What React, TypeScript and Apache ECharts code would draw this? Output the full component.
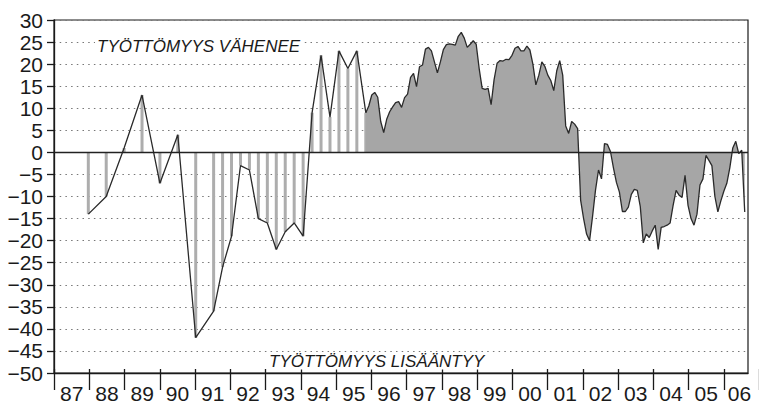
import React, { useEffect, useRef } from 'react';
import * as echarts from 'echarts';

const yearLabels = ['87', '88', '89', '90', '91', '92', '93', '94', '95', '96', '97', '98', '99', '00', '01', '02', '03', '04', '05', '06'];

// Early, sparse observations (semi-annual, then quarterly) drawn as hatched bars
const sparseMonths = [
  '1987-12', '1988-06', '1988-12', '1989-06', '1989-12', '1990-06', '1990-12', '1991-06',
  '1991-09', '1991-12', '1992-03', '1992-06', '1992-09', '1992-12', '1993-03', '1993-06',
  '1993-09', '1993-12', '1994-03', '1994-06', '1994-09', '1994-12', '1995-03', '1995-06', '1995-09',
];
const sparseValues = [
  -14, -10, 1, 13, -7, 4, -42, -36,
  -26, -19, -3, -4, -15, -16, -22, -18,
  -16, -19, 9, 22, 8, 23, 19, 23, 9,
];

// Monthly observations from Oct 1995 on, drawn as a filled area
const monthlyStart = '1995-10';
const monthlyValues = [
  10.5, 13, 13.6,
  12.5, 7, 4.5, 7.5, 9.2, 10.3, 11.3, 11.5, 10.2, 12.4, 13.2, 17,
  17.9, 14.9, 19.4, 19.8, 23.4, 23.8, 23, 20.5, 18, 20.5, 23.3, 24.4,
  24.6, 24.5, 24.3, 26.3, 27.2, 25.9, 23.8, 24.5, 25.3, 24.5, 19, 14.5,
  14.3, 14.5, 10.8, 16.5, 20.2, 20.8, 20.7, 21.1, 21, 22, 23.6, 24,
  23, 23, 24.1, 23.2, 20, 15.3, 17.5, 20.5, 19.5, 17.5, 16.3, 14,
  18.5, 20.8, 17.5, 6, 4.3, 7, 6.4, 5.4, -10.8, -15, -18.5, -20,
  -14.5, -8.5, -4, -6, 2, 1.8, 0.2, -3.5, -6.8, -9, -13.4, -13.4,
  -12.4, -9.5, -8.4, -8.6, -12.3, -20.5, -18.5, -19.3, -17.8, -16.5, -22, -17,
  -16.8, -16.5, -16, -12, -8.6, -9.7, -10.2, -5.2, -12, -15, -16.5, -14,
  -7.4, -6, -0.7, -1.8, -3, -10, -13.5, -11, -8.8, -7, -3.5, 1,
  2.5, -0.3, 0.5, -13.5,
];

const topNote = 'TYÖTTÖMYYS VÄHENEE';
const bottomNote = 'TYÖTTÖMYYS LISÄÄNTYY';

const FONT = '"Liberation Sans", Arial, Helvetica, sans-serif';
const INK = '#1a1a1a';

const monthIndex = (s: string) => {
  const [y, m] = s.split('-').map(Number);
  return (y - 1987) * 12 + (m - 1) + 0.5;
};

export default function App() {
  const ref = useRef<HTMLDivElement>(null);

  useEffect(() => {
    if (!ref.current) return;
    const chart = echarts.init(ref.current, undefined, { renderer: 'svg' });

    const sparseData = sparseMonths.map((m, i) => [monthIndex(m), sparseValues[i]]);
    const start = monthIndex(monthlyStart);
    const lastSparse = sparseData[sparseData.length - 1];
    const monthlyData = [lastSparse, ...monthlyValues.map((v, i) => [start + i, v])];

    const option: any = {
      animation: false,
      grid: [
        { left: 54, top: 20, width: 694, height: 353, show: true, borderColor: INK, borderWidth: 1.2, backgroundColor: 'transparent' },
        { left: 54, top: 20, width: 716, height: 353 },
      ],
      xAxis: [
        {
          type: 'value', gridIndex: 0, min: 0, max: 232.6, interval: 12,
          axisLine: { show: true, onZero: false, lineStyle: { color: INK, width: 1.3 } },
          axisTick: { show: false }, axisLabel: { show: false }, splitLine: { show: false },
        },
        {
          type: 'category', gridIndex: 1, data: yearLabels, boundaryGap: true, offset: 9,
          axisLine: { show: false },
          axisTick: { show: true, length: 21, interval: 0, lineStyle: { color: INK, width: 1.3 } },
          axisLabel: {
            interval: 0, margin: 5, fontSize: 21, color: INK, fontFamily: FONT,
            formatter: (v: string, i: number) => (i === yearLabels.length - 1 ? `{last|${v}}` : v),
            rich: { last: { padding: [0, 4, 0, 0], fontSize: 21, color: INK, fontFamily: FONT } },
          },
          splitLine: { show: false },
        },
      ],
      yAxis: [
        {
          type: 'value', gridIndex: 0, min: -50, max: 30, interval: 5,
          axisLine: { show: true, onZero: false, lineStyle: { color: INK, width: 1.3 } },
          axisTick: { show: true, length: 7, lineStyle: { color: INK, width: 1.3 } },
          axisLabel: {
            fontSize: 21, margin: 11, color: INK, fontFamily: FONT,
            formatter: (v: number) => (v < 0 ? '\u2212' + Math.abs(v) : String(v)),
          },
          splitLine: { show: true, lineStyle: { type: [1.5, 4.2], color: '#777', width: 1.2 } },
        },
        { type: 'value', gridIndex: 1, show: false, min: 0, max: 1 },
      ],
      series: [
        {
          type: 'bar', xAxisIndex: 0, yAxisIndex: 0, data: sparseData, barWidth: 3,
          itemStyle: { color: '#adadad' }, z: 1,
        },
        {
          type: 'line', xAxisIndex: 0, yAxisIndex: 0, data: monthlyData, symbol: 'none',
          lineStyle: { color: '#2a2a2a', width: 1.3 },
          areaStyle: { color: '#a6a6a6', opacity: 1, origin: 0 }, z: 2,
        },
        {
          type: 'line', xAxisIndex: 0, yAxisIndex: 0, data: sparseData, symbol: 'none',
          lineStyle: { color: '#2a2a2a', width: 1.3 }, z: 3,
          markLine: {
            silent: true, symbol: 'none', label: { show: false },
            lineStyle: { color: '#222', width: 1.3, type: 'solid' },
            data: [{ yAxis: 0 }], z: 5,
          },
        },
      ],
      graphic: [
        {
          type: 'text', x: 95, y: 46, z: 100,
          style: {
            text: topNote, fontSize: 17, fontStyle: 'italic', fontFamily: FONT, fill: INK,
            align: 'left', verticalAlign: 'middle', backgroundColor: '#fff', padding: [0, 2],
          },
        },
        {
          type: 'text', x: 267, y: 361, z: 100,
          style: {
            text: bottomNote, fontSize: 17, fontStyle: 'italic', fontFamily: FONT, fill: INK,
            align: 'left', verticalAlign: 'middle', backgroundColor: '#fff', padding: [0, 2],
          },
        },
      ],
    };

    chart.setOption(option);
    return () => chart.dispose();
  }, []);

  return <div ref={ref} style={{ width: 759, height: 404, position: 'absolute', left: 0, top: 0 }} />;
}
